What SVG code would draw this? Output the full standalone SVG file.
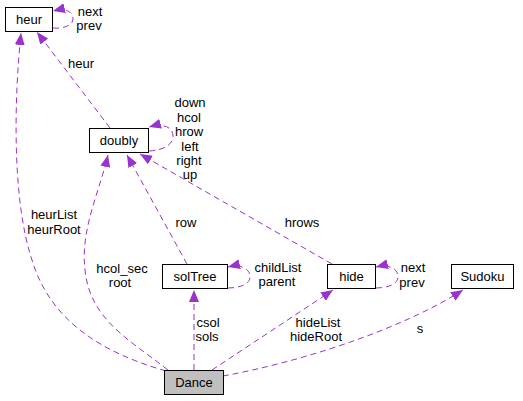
<svg xmlns="http://www.w3.org/2000/svg" width="523" height="401" viewBox="0 0 523 401">
<style>
  .node rect { fill: #ffffff; stroke: #000000; stroke-width: 1; }
  .node.main rect { fill: #bfbfbf; }
  text { font-family: "Liberation Sans", Arial, Helvetica, sans-serif; font-size: 13px; fill: #000000; text-anchor: middle; }
  .edge { fill: none; stroke: #9a32cd; stroke-width: 1; stroke-dasharray: 6,4; marker-end: url(#arrow); }
</style>
<defs>
  <marker id="arrow" markerUnits="userSpaceOnUse" markerWidth="12" markerHeight="10" viewBox="0 0 12 10" refX="12" refY="5" orient="auto">
    <path d="M0,0 L12,5 L0,10 z" fill="#9a32cd" stroke="none"/>
  </marker>
</defs>
<rect width="523" height="401" fill="#ffffff"/>
<g id="connectors">
  <path class="edge" d="M110,128 L37,32"/>
  <path class="edge" d="M53,28 C64,29 73,25 73,19 C73,11 65,8 53,11"/>
  <path class="edge" d="M166,371 C100,352 50,320 32,260 C12,200 14,100 21,33"/>
  <path class="edge" d="M149,151 C165,150 173,144 173,136 C173,127 163,123 149,127"/>
  <path class="edge" d="M187,264 L127,155"/>
  <path class="edge" d="M332,264 L140,154"/>
  <path class="edge" d="M168,370 C130,340 90,320 85,270 C80,230 100,190 108,155"/>
  <path class="edge" d="M228,288 C240,288 250,284 250,277 C250,268 240,264 228,267"/>
  <path class="edge" d="M194,370 L194,290"/>
  <path class="edge" d="M376,288 C388,288 398,284 398,277 C398,268 388,264 376,267"/>
  <path class="edge" d="M212,370 L333,290"/>
  <path class="edge" d="M223,376 C300,362 400,330 463,290"/>
  <g id="edge-labels">
    <text x="81" y="68">heur</text>
    <text x="90" y="16">next</text>
    <text x="89" y="30">prev</text>
    <text x="54" y="219">heurList</text>
    <text x="54" y="234">heurRoot</text>
    <text x="190" y="107">down</text>
    <text x="189" y="122">hcol</text>
    <text x="189" y="136">hrow</text>
    <text x="190" y="151">left</text>
    <text x="189" y="165">right</text>
    <text x="190" y="179">up</text>
    <text x="186" y="227">row</text>
    <text x="302" y="227">hrows</text>
    <text x="122" y="273">hcol_sec</text>
    <text x="120" y="287">root</text>
    <text x="278" y="272">childList</text>
    <text x="277" y="286">parent</text>
    <text x="208" y="327">csol</text>
    <text x="207" y="341">sols</text>
    <text x="413" y="272">next</text>
    <text x="412" y="287">prev</text>
    <text x="318" y="327">hideList</text>
    <text x="316" y="341">hideRoot</text>
    <text x="420" y="333">s</text>
  </g>
</g>
<g id="node-heur" class="node"><rect x="5.5" y="7.5" width="47" height="24"/><text x="29" y="24">heur</text></g>
<g id="node-doubly" class="node"><rect x="89.5" y="128.5" width="59" height="24"/><text x="119" y="145">doubly</text></g>
<g id="node-solTree" class="node"><rect x="162.5" y="264.5" width="65" height="24"/><text x="195" y="281">solTree</text></g>
<g id="node-hide" class="node"><rect x="327.5" y="264.5" width="48" height="24"/><text x="351.5" y="281">hide</text></g>
<g id="node-Sudoku" class="node"><rect x="451.5" y="264.5" width="62" height="24"/><text x="482.5" y="281">Sudoku</text></g>
<g id="node-Dance" class="node main"><rect x="164.5" y="370.5" width="59" height="24"/><text x="194" y="387">Dance</text></g>
</svg>
